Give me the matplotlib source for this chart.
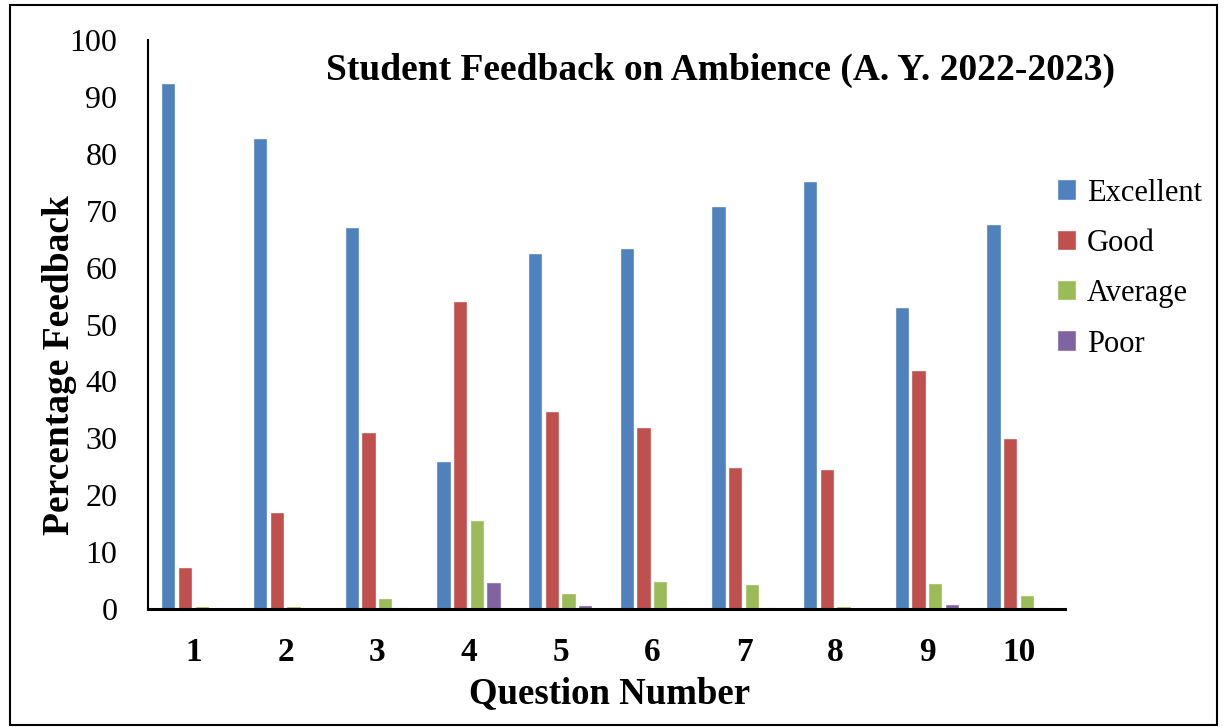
import numpy as np
import matplotlib
matplotlib.use("Agg")
from matplotlib import pyplot as plt

questions = ["1", "2", "3", "4", "5", "6", "7", "8", "9", "10"]
excellent = [92.3, 82.6, 67.0, 25.8, 62.4, 63.3, 70.7, 75.0, 52.9, 67.5]
good = [7.2, 16.9, 30.9, 54.0, 34.6, 31.8, 24.8, 24.4, 41.8, 29.9]
average = [0.4, 0.4, 1.8, 15.5, 2.6, 4.7, 4.2, 0.4, 4.4, 2.3]
poor = [0.0, 0.0, 0.2, 4.5, 0.5, 0.2, 0.2, 0.0, 0.7, 0.2]

series = [("Excellent", excellent, "#4F81BD"),
          ("Good", good, "#C0504D"),
          ("Average", average, "#9BBB59"),
          ("Poor", poor, "#8064A2")]

plt.rcParams["font.family"] = ["Liberation Serif", "DejaVu Serif"]

fig = plt.figure(figsize=(12.27, 7.27), dpi=100)
ax = fig.add_axes([148 / 1227, 1 - 609 / 727, 917 / 1227, 569 / 727])

x = np.arange(len(questions))
slot = 0.182
for i, (name, vals, col) in enumerate(series):
    ax.bar(x + (i - 1.5) * slot, vals, width=0.145, color=col,
           edgecolor="#f4f4f4", linewidth=0.3, label=name)

ax.set_xlim(-0.5, 9.5)
ax.set_ylim(0, 100)
ax.set_yticks(range(0, 101, 10))
ax.set_xticks(x)
ax.set_xticklabels(questions, fontweight="bold")
ax.tick_params(axis="both", length=0)
ax.tick_params(axis="y", labelsize=23, pad=22)
ax.tick_params(axis="x", labelsize=24, pad=20)
for s in ["top", "right"]:
    ax.spines[s].set_visible(False)
ax.spines["left"].set_linewidth(1.5)
ax.spines["bottom"].set_linewidth(2.2)

ax.set_xlabel("Question Number", fontsize=26.5, fontweight="bold")
ax.xaxis.label.set_va("center")
ax.xaxis.set_label_coords(0.503, -0.148)
ax.set_ylabel("Percentage Feedback", fontsize=27, fontweight="bold")
ax.yaxis.label.set_va("center")
ax.yaxis.set_label_coords(-0.096, 0.429)
ax.text(0.624, 0.947, "Student Feedback on Ambience (A. Y. 2022-2023)",
        transform=ax.transAxes, ha="center", va="center",
        fontsize=27, fontweight="bold")

ax.legend(loc="center left", bbox_to_anchor=(0.962, 0.598), frameon=False,
          fontsize=22, handlelength=0.6, handleheight=0.6, handletextpad=0.35,
          labelspacing=0.7)

fig.patches.append(plt.Rectangle((0.008, 0.003), 0.984, 0.99, transform=fig.transFigure,
                                 fill=False, edgecolor="black", linewidth=1.5))

fig.savefig("out.png", dpi=100)
